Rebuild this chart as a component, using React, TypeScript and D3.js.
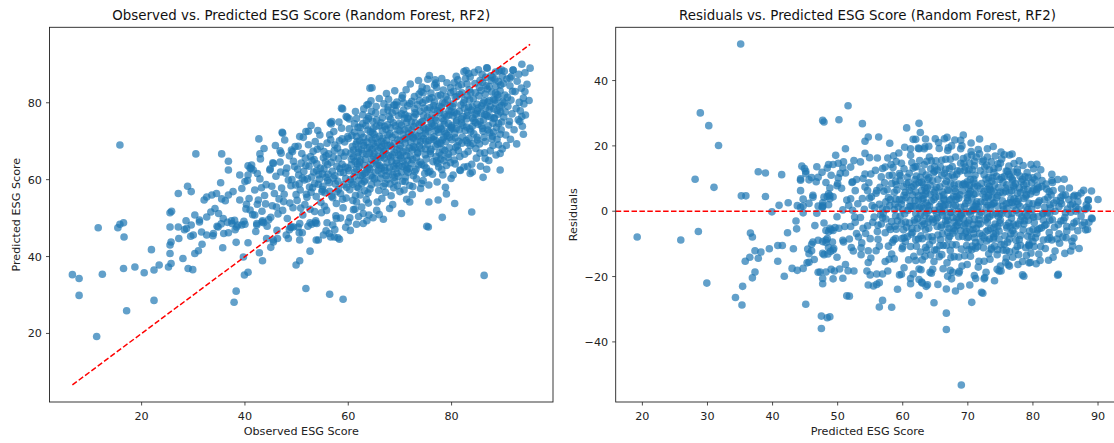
import React from "react";
import * as d3 from "d3";

// [observed, predicted] pairs
const lowTail: [number, number][] = [
  [6.6,35.3],[7.9,34.3],[7.9,29.9],[11.3,19.2],[11.6,47.5],[12.4,35.4],[15.4,47.5],[15.8,48.4],[16.5,48.8],[16.6,45.1],
  [16.5,36.9],[17.1,25.9],[18.7,37.3],[20.5,35.8],[21.9,41.8],[22.4,36.5],[22.4,28.6],[23.4,37.8],[25.2,37.3],[25.5,40.8],
  [25.5,43.0],[25.7,43.8],[25.7,38.2],[25.5,47.7],[27.1,47.7],[27.2,44.7],[28.0,39.5],[28.3,47.0],[28.7,47.3],[29.0,36.9],
  [29.9,36.6],[29.5,45.3],[30.0,45.6],[29.6,48.2],[30.3,40.8],[31.0,41.5],[31.2,49.0],[31.6,46.4],[31.7,43.2],[33.9,46.0],
  [34.6,47.9],[35.7,42.3],[35.9,46.0],[36.8,46.2],[37.5,48.6],[38.1,47.0],[38.3,43.7],[37.9,28.1],[38.3,31.0],[39.7,39.9],
  [39.9,35.2],[40.6,35.9],[40.0,48.4],[40.6,43.6],[42.3,48.2],[42.8,41.0],[43.4,38.9],[43.3,49.0],[44.2,44.7],[45.0,42.4],
  [45.5,43.8],[46.3,44.7],[48.4,44.7],[48.8,47.6],[49.4,47.7],[49.9,37.8],[50.6,38.9],[50.6,44.3],[51.1,46.2],[50.3,47.7],
  [51.8,31.7],[52.6,41.4],[52.9,48.4],[53.6,48.8],[54.2,44.3],[55.7,46.7],[56.3,46.0],[56.6,45.1],[57.3,45.1],[57.4,47.0],
  [58.3,44.5],[56.4,30.2],[59.0,28.9],[61.6,48.4],[62.9,48.6],[86.3,35.1],
  [39.8,49.2],[42.3,48.6],[43.4,49.3],[45.5,44.3],[48.6,47.0],[49.0,47.7],[50.5,46.2],[52.6,48.8],[53.9,48.6],
  [53.8,44.3],[58.0,44.9],[55.2,45.6],[60.4,46.8],[59.5,47.6],[57.0,48.2],[63.6,49.3],[64.8,50.1],[62.0,50.4],[60.0,49.0],
  [58.5,50.0],[65.5,52.0],[68.0,52.5],[55.9,48.8],[57.7,49.9],[61.3,52.3],[62.9,51.2],[61.6,54.2],[66.0,50.9],
];

const upperLeft: [number, number][] = [
  [15.8,69.0],[27.1,56.4],[28.9,58.3],[29.6,56.9],[30.5,66.7],[35.5,66.7],[36.8,64.8],[36.8,62.5],[35.3,59.2],[32.1,54.7],
  [42.7,70.6],[43.7,68.1],[42.9,66.7],[47.3,72.1],[40.6,63.6],[45.5,64.2],[44.8,62.5],[46.8,67.5],[49.2,67.3],[50.6,71.2],
  [51.8,72.5],[58.7,78.6],[56.5,74.8],[63.6,79.4],[64.2,83.8],
  [25.5,51.4],[25.8,51.8],[28.6,49.3],[30.3,50.8],[31.2,49.5],[32.6,55.5],[33.6,56.0],[34.5,56.4],[35.5,55.0],[36.2,54.5],
  [36.8,56.0],[37.7,56.9],[32.6,50.3],[33.4,51.6],[34.2,52.5],[34.9,51.2],[35.8,49.9],[36.6,48.9],[37.4,49.3],[38.4,47.7],
  [39.4,57.7],[40.0,59.5],[39.0,61.2],[41.3,63.8],[40.6,61.2],[39.0,54.7],[40.3,53.6],[41.0,52.1],[41.9,50.8],[42.6,54.7],
  [32.6,45.6],[33.8,45.4],[34.8,47.7],[35.4,48.5],[39.4,48.2],[38.0,49.4],[38.6,48.2],
  [47.2,72.3],[52.3,72.6],[56.8,75.1],[59.6,76.4],[61.6,75.9],[45.4,64.4],[41.6,62.5],[42.4,61.6],[41.0,63.0],[49.0,67.7],
  [58.9,78.4],[63.9,79.6],[64.6,83.9],[67.7,78.1],[69.4,79.4],[69.0,79.4],[70.5,81.9],
];

const rightEdge: [number, number][] = [
  [66.8,49.7],[70.3,51.2],[75.2,47.9],[75.5,47.7],[78.2,50.2],[83.9,51.6],[75.6,54.2],[77.4,54.7],[79.0,56.3],[80.6,53.8],
  [71.3,54.9],[71.9,54.2],[86.1,60.6],[86.8,62.7],[89.4,62.5],[89.4,66.8],[88.6,66.4],[86.5,65.5],[70.0,56.9],[71.3,62.5],
  [78.3,61.2],[80.3,61.2],[81.6,62.5],[83.6,61.6],[83.1,63.4],[74.2,59.0],[71.0,59.5],[72.5,58.2],
  [95.2,89.0],[93.6,90.0],[91.9,88.5],[86.9,89.0],[82.4,88.1],[89.7,88.5],[91.3,86.4],[75.7,87.1],[75.4,86.1],[77.0,85.1],
  [74.5,82.6],[79.8,83.9],[94.2,82.9],[93.9,81.2],[93.6,76.4],[93.9,71.8],[93.2,75.1],
];

const band40: [number, number][] = [
  [40.2,52.4],[40.8,55.1],[41.5,50.9],[41.9,57.3],[42.4,53.6],[42.9,60.2],[43.3,51.8],[43.8,55.9],[44.1,58.7],[44.6,49.6],
  [44.9,62.8],[45.3,53.2],[45.7,56.4],[46.0,60.9],[46.4,51.1],[46.8,64.6],[47.1,57.8],[47.5,54.3],[47.9,61.7],[48.2,49.9],
  [48.6,66.2],[48.9,58.4],[49.3,52.7],[49.6,63.4],[49.9,56.1],[41.2,62.9],[43.0,65.4],[45.9,68.9],[47.7,70.3],[44.3,47.9],
  [46.2,46.8],[48.0,45.6],[42.1,46.5],[49.1,60.0],[40.5,59.8],[45.0,50.2],[47.3,52.0],[43.6,48.8],[49.7,68.6],[46.6,55.0],
  [45.2,58.3],[46.1,52.9],[46.9,62.0],[47.6,56.2],[48.4,59.9],[48.7,53.9],[49.4,64.8],[49.8,58.6],[50.2,62.7],[50.8,52.6],
  [51.1,60.4],[51.7,65.6],[44.0,53.7],[43.2,57.9],[47.0,66.9],[48.1,63.0],
];

const band50: [number, number][] = [
  [50.1,54.6],[50.4,61.2],[50.7,57.3],[51.0,66.8],[51.2,50.8],[51.5,59.9],[51.8,63.7],[52.0,55.4],[52.3,69.1],[52.6,52.3],
  [52.9,60.7],[53.1,57.9],[53.4,65.2],[53.7,49.3],[53.9,62.4],[54.2,58.8],[54.5,71.6],[54.7,54.1],[55.0,61.5],[55.3,67.3],
  [55.5,56.6],[55.8,52.0],[56.0,63.9],[56.3,59.2],[56.6,70.4],[56.8,55.7],[57.1,65.8],[57.4,61.0],[57.6,50.6],[57.9,68.2],
  [58.1,57.5],[58.4,62.9],[58.7,73.4],[58.9,54.9],[59.2,66.1],[59.5,60.3],[59.7,58.0],[59.9,71.2],[50.9,64.3],[51.6,53.5],
  [52.5,58.1],[53.3,62.0],[54.0,67.9],[54.8,51.4],[55.6,64.6],[56.4,57.0],[57.2,72.5],[58.0,59.6],[58.8,64.0],[59.6,55.2],
  [50.3,68.7],[51.3,71.0],[52.8,74.1],[53.8,55.6],[55.1,58.3],[55.9,69.5],[56.9,62.2],[57.7,53.8],[58.6,67.0],[59.4,63.3],
  [50.6,48.6],[52.2,47.9],[53.5,51.7],[54.4,60.1],[55.4,53.1],[56.2,66.7],[57.5,58.9],[58.3,70.1],[59.1,61.8],[59.8,76.2],
  [51.9,56.2],[53.0,64.9],[54.6,63.0],[55.7,60.6],[57.0,55.3],[58.5,56.4],[59.3,69.8],[56.7,74.5],[54.1,72.8],[52.7,66.0],
  [50.5,58.9],[51.4,62.1],[53.6,69.9],[55.2,65.7],[57.8,63.5],[59.0,52.7],[56.1,61.4],[58.2,75.0],[54.9,56.9],[57.3,67.6],
  [52.1,60.2],[52.4,63.5],[52.8,56.7],[53.2,67.4],[53.5,59.0],[53.9,64.1],[54.3,61.3],[54.6,68.6],[55.0,57.4],[55.3,62.8],
  [55.7,66.2],[56.0,59.8],[56.4,71.7],[56.7,64.5],[57.1,60.4],[57.4,69.0],[57.8,56.9],[58.1,65.4],[58.5,61.9],[58.8,70.6],
  [59.2,58.7],[59.5,67.2],[59.9,63.0],
];

const band60: [number, number][] = [
  [60.1,62.3],[60.3,57.4],[60.5,66.9],[60.7,71.5],[60.9,54.6],[61.1,60.8],[61.3,64.7],[61.5,69.2],[61.7,58.1],[61.9,73.6],
  [62.1,63.4],[62.3,56.0],[62.5,67.8],[62.7,61.2],[62.9,71.0],[63.1,59.5],[63.3,65.3],[63.5,75.4],[63.7,62.6],[63.9,53.9],
  [64.1,68.4],[64.3,64.0],[64.5,58.7],[64.7,72.2],[64.9,66.1],[65.1,60.2],[65.3,77.3],[65.5,63.8],[65.7,69.6],[65.9,57.2],
  [66.1,74.0],[66.3,65.7],[66.5,61.5],[66.7,70.8],[66.9,67.3],[67.1,59.0],[67.3,73.1],[67.5,64.4],[67.7,78.9],[67.9,62.0],
  [68.1,69.0],[68.3,55.8],[68.5,66.5],[68.7,74.8],[68.9,60.6],[69.1,71.7],[69.3,65.0],[69.5,58.4],[69.7,76.6],[69.9,68.1],
  [60.2,75.8],[60.6,63.9],[61.0,67.7],[61.4,55.9],[61.8,66.0],[62.2,70.1],[62.6,58.9],[63.0,68.9],[63.4,61.9],[63.8,72.9],
  [64.2,57.6],[64.6,70.3],[65.0,66.8],[65.4,73.9],[65.8,62.4],[66.2,68.3],[66.6,76.1],[67.0,63.2],[67.4,70.2],[67.8,66.2],
  [68.2,73.5],[68.6,61.3],[69.0,67.0],[69.4,80.2],[69.8,63.6],[60.4,60.0],[60.8,68.6],[61.2,72.4],[61.6,62.7],[62.0,59.8],
  [62.4,65.1],[62.8,74.6],[63.2,57.1],[63.6,66.6],[64.0,70.9],[64.4,61.1],[64.8,75.1],[65.2,64.9],[65.6,59.1],[66.0,71.3],
  [66.4,63.0],[66.8,77.6],[67.2,67.5],[67.6,60.1],[68.0,71.9],[68.4,64.8],[68.8,79.4],[69.2,62.9],[69.6,73.0],[60.0,70.7],
  [61.0,52.2],[62.6,52.9],[64.0,50.8],[65.6,54.2],[67.2,56.7],[68.8,57.9],[61.4,77.7],[63.0,78.4],[64.4,80.5],[66.0,81.1],
  [67.4,82.4],[69.0,83.1],[62.0,68.0],[63.6,69.8],[65.0,71.8],[66.6,72.8],[68.2,75.7],[69.6,70.4],[60.6,65.3],[61.8,64.1],
  [63.2,63.7],[64.6,67.9],[65.8,66.0],[67.0,69.3],[68.4,68.5],[69.8,66.4],[62.4,61.0],[64.2,62.8],[66.2,60.4],[68.0,63.1],
  [69.4,61.7],[60.9,58.8],[63.8,56.5],[66.8,58.3],[69.0,59.6],[61.6,71.2],[64.8,73.3],[67.6,74.3],[62.8,76.9],[65.4,79.0],
  [60.3,50.1],[63.5,54.8],[66.5,55.1],[68.6,53.5],[61.2,74.5],[64.0,76.4],[67.8,80.9],[69.2,77.9],[65.2,68.6],[67.0,65.6],
  [60.2,73.2],[60.6,59.3],[61.0,65.9],[61.3,62.0],[61.7,69.9],[62.0,57.8],[61.9,67.1],
  [62.2,64.6],[62.5,71.9],[62.8,66.8],[63.1,61.6],[63.4,74.1],[63.7,68.2],[64.0,63.1],[64.3,72.5],[64.6,65.2],[64.9,69.4],
  [65.2,61.9],[65.5,75.6],[65.8,67.7],[66.1,63.6],[66.4,70.0],[66.7,66.4],[67.0,73.9],[67.3,61.0],[67.6,68.9],[67.9,76.4],
  [68.2,65.9],[68.5,71.0],[68.8,63.5],[69.1,74.0],[69.4,67.8],[69.7,60.9],[62.9,69.6],[64.1,66.9],[65.3,70.8],[66.5,68.7],
  [67.7,71.6],[68.9,69.4],[63.3,59.9],[65.7,64.1],[67.1,62.4],[69.3,64.2],[64.5,77.8],[66.9,79.7],[68.5,77.4],[62.3,73.6],
  [63.9,75.9],[66.3,74.8],[69.9,74.6],[64.7,60.5],[68.1,58.9],
];

const band70: [number, number][] = [
  [70.1,68.9],[70.3,74.2],[70.5,63.4],[70.7,78.1],[70.9,70.6],[71.1,60.7],[71.3,66.3],[71.5,75.9],[71.7,72.0],[71.9,58.5],
  [72.1,69.7],[72.3,80.4],[72.5,65.2],[72.7,73.8],[72.9,62.1],[73.1,77.0],[73.3,70.0],[73.5,67.1],[73.7,82.3],[73.9,64.6],
  [74.1,74.9],[74.3,71.4],[74.5,59.8],[74.7,78.6],[74.9,68.0],[75.1,63.0],[75.3,76.2],[75.5,72.6],[75.7,81.0],[75.9,66.7],
  [76.1,70.9],[76.3,61.4],[76.5,79.3],[76.7,74.1],[76.9,68.6],[77.1,84.0],[77.3,64.3],[77.5,72.3],[77.7,77.4],[77.9,69.4],
  [78.1,62.6],[78.3,80.1],[78.5,75.3],[78.7,67.6],[78.9,71.9],[79.1,85.2],[79.3,65.8],[79.5,78.0],[79.7,73.0],[79.9,60.3],
  [70.2,65.6],[70.6,71.8],[71.0,76.9],[71.4,63.1],[71.8,68.2],[72.2,75.0],[72.6,61.0],[73.0,71.6],[73.4,79.5],[73.8,68.8],
  [74.2,64.0],[74.6,73.5],[75.0,80.7],[75.4,69.1],[75.8,62.2],[76.2,76.8],[76.6,71.2],[77.0,66.0],[77.4,81.8],[77.8,73.7],
  [78.2,70.3],[78.6,77.0],[79.0,63.7],[79.4,74.6],[79.8,82.6],[70.4,81.2],[71.2,83.4],[72.0,84.9],[72.8,78.5],[73.6,85.8],
  [74.4,80.0],[75.2,83.7],[76.0,82.5],[76.8,86.0],[77.6,79.1],[78.4,83.3],[79.2,80.8],[70.8,57.3],[72.4,56.1],[74.0,57.7],
  [75.6,58.6],[77.2,59.4],[78.8,58.0],[71.6,61.9],[73.2,60.2],[74.8,61.6],[76.4,64.7],[78.0,66.4],[79.6,68.3],[70.0,72.7],
  [71.0,69.5],[72.0,66.1],[73.0,74.7],[74.0,69.9],[75.0,73.1],[76.0,67.9],[77.0,75.4],[78.0,73.2],[79.0,76.4],[70.6,67.2],
  [71.6,73.3],[72.6,70.8],[73.6,63.8],[74.6,76.7],[75.6,70.2],[76.6,78.3],[77.6,67.0],[78.6,72.5],[79.6,71.0],[70.9,76.0],
  [71.9,79.8],[72.9,68.3],[73.9,72.8],[74.9,66.5],[75.9,75.5],[76.9,72.7],[77.9,82.0],[78.9,69.9],[79.9,77.7],[72.2,64.2],
  [73.4,66.9],[74.6,70.6],[75.8,78.7],[77.0,70.1],[78.2,75.9],[79.4,66.6],[70.3,62.0],[71.5,65.0],[72.7,76.3],[73.9,77.8],
  [75.1,65.4],[76.3,73.9],[77.5,63.3],[78.7,79.9],[79.9,73.6],[71.3,70.9],[74.1,82.9],[76.7,80.2],[78.5,64.9],[77.3,69.2],
  [70.0,70.2],[70.3,77.1],[70.6,64.8],[70.9,73.0],[71.2,67.5],[71.5,79.2],[71.8,62.9],[72.1,71.4],[72.4,67.8],[70.1,66.3],
  [71.3,74.9],[71.0,63.8],[70.7,80.0],[71.7,76.5],[70.5,59.6],
  [72.3,73.0],[72.6,68.6],[72.9,77.4],[73.2,65.7],[73.5,71.3],[73.8,80.6],[74.1,68.1],[74.4,75.2],[74.7,63.6],[75.0,70.0],
  [75.3,78.1],[75.6,73.6],[75.9,67.4],[76.2,81.3],[76.5,70.4],[76.8,76.0],[77.1,64.9],[77.4,73.1],[77.7,69.6],[78.0,78.8],
  [78.3,67.9],[78.6,74.4],[78.9,81.6],[79.2,71.5],[79.5,76.8],[79.8,64.4],[72.5,71.1],[73.7,74.3],[74.9,72.0],[76.1,74.6],
  [77.3,77.9],[78.5,71.0],[79.7,79.2],[73.1,62.7],[75.5,61.9],[77.9,65.3],[74.3,84.1],[76.7,84.6],[78.1,86.3],[72.8,81.6],
];

const band80: [number, number][] = [
  [80.1,70.4],[80.3,76.6],[80.5,65.1],[80.7,81.5],[80.9,73.3],[81.1,68.8],[81.3,84.3],[81.5,77.8],[81.7,62.4],[81.9,74.7],
  [82.1,71.1],[82.3,80.0],[82.5,66.6],[82.7,86.3],[82.9,75.8],[83.1,69.6],[83.3,78.9],[83.5,73.2],[83.7,82.7],[83.9,64.0],
  [84.1,76.0],[84.3,71.9],[84.5,85.0],[84.7,68.1],[84.9,79.6],[85.1,74.4],[85.3,81.8],[85.5,66.9],[85.7,77.3],[85.9,87.4],
  [86.1,72.6],[86.3,80.5],[86.5,69.9],[86.7,76.8],[86.9,83.6],[87.1,74.0],[87.3,78.2],[87.5,67.5],[87.7,85.8],[87.9,71.3],
  [88.1,80.9],[88.3,76.1],[88.5,88.0],[88.7,73.6],[88.9,82.1],[89.1,69.1],[89.3,78.8],[89.5,84.6],[89.7,75.0],[89.9,80.3],
  [80.2,79.0],[80.6,72.1],[81.0,75.4],[81.4,70.0],[81.8,79.4],[82.2,76.4],[82.6,72.8],[83.0,84.9],[83.4,70.7],[83.8,78.1],
  [84.2,81.0],[84.6,74.9],[85.0,70.3],[85.4,84.0],[85.8,79.2],[86.2,75.6],[86.6,86.6],[87.0,80.2],[87.4,72.2],[87.8,82.8],
  [88.2,78.4],[88.6,84.3],[89.0,77.0],[89.4,71.8],[89.8,86.9],[80.4,83.0],[81.2,86.0],[82.0,82.6],[82.8,88.4],[83.6,86.7],
  [84.4,87.9],[85.2,88.6],[86.0,85.3],[86.8,89.1],[87.6,87.0],[88.4,86.1],[89.2,88.3],[80.8,68.4],[81.6,66.0],[82.4,63.3],
  [83.2,67.3],[84.0,62.0],[84.8,65.6],[85.6,63.5],[86.4,67.0],[87.2,65.0],[88.0,68.9],[88.8,70.5],[89.6,73.0],[80.0,74.0],
  [81.0,81.6],[82.0,69.5],[83.0,76.7],[84.0,73.8],[85.0,77.9],[86.0,73.3],[87.0,76.5],[88.0,74.7],[89.0,81.4],[80.5,77.5],
  [81.5,73.0],[82.5,78.6],[83.5,80.8],[84.5,77.1],[85.5,75.2],[86.5,82.3],[87.5,79.0],[88.5,79.8],[89.5,77.6],[80.7,64.1],
  [82.9,73.7],[84.1,69.4],[86.3,71.0],[88.1,72.4],[80.9,86.9],[83.3,87.6],[85.7,83.2],[87.3,84.2],[89.1,85.5],[81.9,84.7],
  [80.1,73.4],[80.4,79.8],[80.7,70.9],[81.0,77.1],[81.3,67.6],[81.6,82.2],[81.9,75.8],[80.9,75.0],[80.3,67.2],[80.5,85.2],
  [82.2,74.1],[82.5,80.7],[82.8,70.2],[83.1,77.6],[83.4,83.4],[83.7,72.5],[84.0,79.0],[84.3,75.4],[84.6,82.6],[84.9,71.0],
  [85.2,78.6],[85.5,85.8],[85.8,74.0],[86.1,79.9],[86.4,76.9],[86.7,84.4],[87.0,72.9],[87.3,80.6],[87.6,76.3],[87.9,86.6],
  [88.2,75.9],[88.5,82.5],[88.8,78.0],[89.1,74.6],[89.4,83.1],[89.7,79.3],[83.0,81.8],[84.8,77.0],[86.6,78.6],[88.4,80.7],
  [85.4,69.3],[87.8,70.6],[83.6,68.9],[89.8,68.0],
];

const band90: [number, number][] = [
  [90.1,76.3],[90.3,82.0],[90.5,71.6],[90.7,86.2],[90.9,79.1],[91.1,74.2],[91.3,84.4],[91.5,80.7],[91.7,77.1],[91.9,88.5],
  [92.1,73.0],[92.3,82.9],[92.5,78.5],[92.7,85.6],[92.9,75.6],[93.1,80.1],[93.3,77.9],[93.5,83.8],[93.7,73.9],[94.0,79.7],
  [94.3,76.8],[94.6,84.8],[95.0,80.6],[90.6,68.9],[91.4,70.5],[92.6,69.3],[93.0,87.4],[90.2,88.2],[91.6,86.9],[94.2,87.8],
  [90.0,85.0],[90.4,77.6],[90.8,81.4],[91.2,75.2],[90.2,80.0],[91.8,83.0],
];

const identityLine: [number, number] = [6.6, 95.2];
const leftDomain: [number, number] = [2.17, 99.63];
const rightXDomain: [number, number] = [15.9, 93.3];
const rightYDomain: [number, number] = [-58.4, 56.3];
const leftTicks = [20, 40, 60, 80];
const rightXTicks = [20, 30, 40, 50, 60, 70, 80, 90];
const rightYTicks = [-40, -20, 0, 20, 40];

const titles = [
  "Observed vs. Predicted ESG Score (Random Forest, RF2)",
  "Residuals vs. Predicted ESG Score (Random Forest, RF2)",
];

const allPoints = [...lowTail, ...upperLeft, ...rightEdge, ...band40, ...band50, ...band60, ...band70, ...band80, ...band90];

const FONT = "DejaVu Sans, sans-serif";
const BLUE = "#1f77b4";
const LABEL_SIZE = 11.2;
const TITLE_SIZE = 13.4;

type PanelProps = {
  left: number; right: number; top: number; bottom: number;
  x: d3.ScaleLinear<number, number>; y: d3.ScaleLinear<number, number>;
  xTicks: number[]; yTicks: number[];
  title: string; xLabel: string; yLabel: string; yLabelX: number;
  children?: React.ReactNode;
};

function Panel(p: PanelProps) {
  const cx = (p.left + p.right) / 2;
  const cy = (p.top + p.bottom) / 2;
  const clipId = "clip" + Math.round(p.left);
  return (
    <g>
      <defs>
        <clipPath id={clipId}>
          <rect x={p.left} y={p.top} width={p.right - p.left} height={p.bottom - p.top} />
        </clipPath>
      </defs>
      <g clipPath={`url(#${clipId})`}>{p.children}</g>
      <rect x={p.left} y={p.top} width={p.right - p.left} height={p.bottom - p.top} fill="none" stroke="#222" strokeWidth={0.9} />
      {p.xTicks.map((t) => (
        <g key={"x" + t}>
          <line x1={p.x(t)} x2={p.x(t)} y1={p.bottom} y2={p.bottom + 3.5} stroke="#222" strokeWidth={0.8} />
          <text x={p.x(t)} y={p.bottom + 18} textAnchor="middle" fontSize={LABEL_SIZE} fontFamily={FONT} fill="#222">{t}</text>
        </g>
      ))}
      {p.yTicks.map((t) => (
        <g key={"y" + t}>
          <line x1={p.left - 3.5} x2={p.left} y1={p.y(t)} y2={p.y(t)} stroke="#222" strokeWidth={0.8} />
          <text x={p.left - 7.5} y={p.y(t)} dy="0.36em" textAnchor="end" fontSize={LABEL_SIZE} fontFamily={FONT} fill="#222">
            {t < 0 ? "\u2212" + Math.abs(t) : t}
          </text>
        </g>
      ))}
      <text x={cx} y={19.5} textAnchor="middle" fontSize={TITLE_SIZE} fontFamily={FONT} fill="#111">{p.title}</text>
      <text x={cx} y={435} textAnchor="middle" fontSize={LABEL_SIZE} fontFamily={FONT} fill="#222">{p.xLabel}</text>
      <text transform={`translate(${p.yLabelX},${cy}) rotate(-90)`} textAnchor="middle" fontSize={LABEL_SIZE} fontFamily={FONT} fill="#222">{p.yLabel}</text>
    </g>
  );
}

export default function App() {
  const L = { left: 49.5, right: 553, top: 27.3, bottom: 402 };
  const R = { left: 615.7, right: 1119.5, top: 27.3, bottom: 402 };
  const lx = d3.scaleLinear().domain(leftDomain).range([L.left, L.right]);
  const ly = d3.scaleLinear().domain(leftDomain).range([L.bottom, L.top]);
  const rx = d3.scaleLinear().domain(rightXDomain).range([R.left, R.right]);
  const ry = d3.scaleLinear().domain(rightYDomain).range([R.bottom, R.top]);

  const residuals = allPoints.map(([o, p]) => [p, o - p] as [number, number]);
  const diag = d3.line<number>().x((v) => lx(v)).y((v) => ly(v))(identityLine) || "";

  return (
    <svg width={1114} height={443} style={{ position: "absolute", left: 0, top: 0, background: "#fff" }}>
      <rect width={1114} height={443} fill="#fff" />
      <Panel {...L} x={lx} y={ly} xTicks={leftTicks} yTicks={leftTicks} title={titles[0]}
        xLabel="Observed ESG Score" yLabel="Predicted ESG Score" yLabelX={20}>
        {allPoints.map(([o, p], i) => (
          <circle key={i} cx={lx(o)} cy={ly(p)} r={3.8} fill={BLUE} fillOpacity={0.7} />
        ))}
        <path d={diag} stroke="#ff0000" strokeWidth={1.5} strokeDasharray="5.5,2.4" fill="none" />
      </Panel>
      <Panel {...R} x={rx} y={ry} xTicks={rightXTicks} yTicks={rightYTicks} title={titles[1]}
        xLabel="Predicted ESG Score" yLabel="Residuals" yLabelX={577}>
        {residuals.map(([p, r], i) => (
          <circle key={i} cx={rx(p)} cy={ry(r)} r={3.8} fill={BLUE} fillOpacity={0.7} />
        ))}
        <line x1={R.left} x2={R.right} y1={ry(0)} y2={ry(0)} stroke="#ff0000" strokeWidth={1.5} strokeDasharray="5.5,2.4" />
      </Panel>
    </svg>
  );
}
